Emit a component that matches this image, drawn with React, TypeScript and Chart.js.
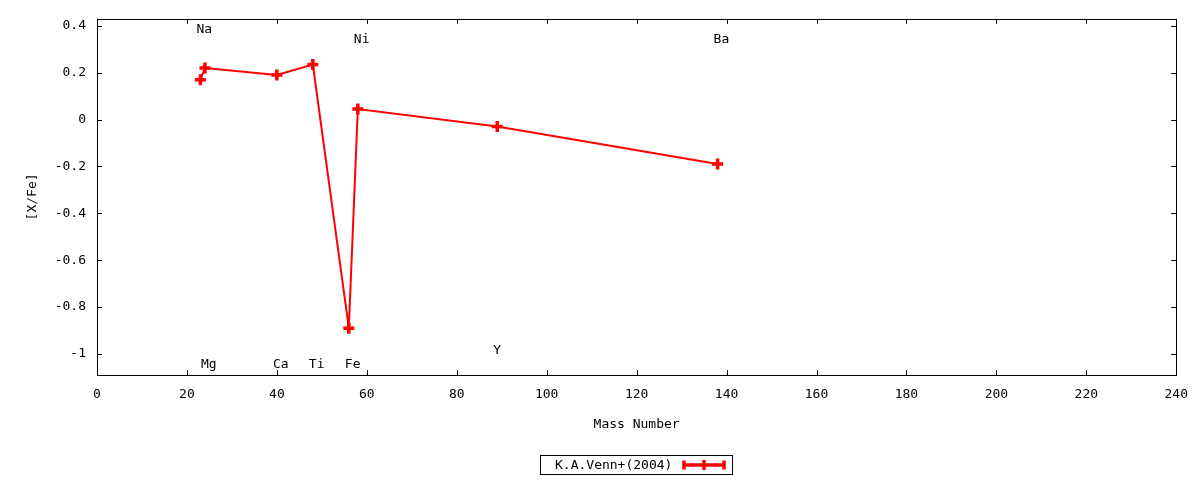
import React, { useEffect, useRef } from 'react';
import { Chart, registerables } from 'chart.js';

Chart.register(...registerables);

// ---- data ----
const elements = ['Na', 'Mg', 'Ca', 'Ti', 'Fe', 'Ni', 'Y', 'Ba'];
const massNumbers = [23, 24, 40, 48, 56, 58, 89, 138];
const abundances = [0.17, 0.22, 0.19, 0.235, -0.89, 0.045, -0.03, -0.19];
// vertical (cap-centre) position of each element name, in [X/Fe] units
const labelYs = [0.389, -1.038, -1.038, -1.038, -1.038, 0.347, -0.979, 0.347];
const xTickValues = [0, 20, 40, 60, 80, 100, 120, 140, 160, 180, 200, 220, 240];
const yTickValues = [-1, -0.8, -0.6, -0.4, -0.2, 0, 0.2, 0.4];
const xRange = [0, 240];
const yRange = [-1.09, 0.43];
const seriesLabel = 'K.A.Venn+(2004)';
const xTitle = 'Mass Number';
const yTitle = '[X/Fe]';

const FONT_FAMILY = '"DejaVu Sans Mono", monospace';
const FONT_SIZE = 13;
const RED = '#ff0000';

const fmtTick = (v: number) => {
  const r = Math.round(v * 10) / 10;
  return String(r === 0 ? 0 : r);
};

const gnuplotPlugin = {
  id: 'gnuplotDecor',
  beforeDatasetsDraw(chart: any) {
    const { ctx, chartArea } = chart;
    const xs = chart.scales.x;
    const ys = chart.scales.y;
    const { left, right, top, bottom } = chartArea;
    ctx.save();
    ctx.strokeStyle = '#000';
    ctx.lineWidth = 1;
    // frame
    ctx.strokeRect(Math.round(left) + 0.5, Math.round(top) + 0.5, Math.round(right - left), Math.round(bottom - top));
    ctx.beginPath();
    const tl = 5;
    xs.ticks.forEach((t: any) => {
      const px = Math.round(xs.getPixelForValue(t.value)) + 0.5;
      ctx.moveTo(px, bottom);
      ctx.lineTo(px, bottom - tl);
      ctx.moveTo(px, top);
      ctx.lineTo(px, top + tl);
    });
    ys.ticks.forEach((t: any) => {
      const py = Math.round(ys.getPixelForValue(t.value)) + 0.5;
      ctx.moveTo(left, py);
      ctx.lineTo(left + tl, py);
      ctx.moveTo(right, py);
      ctx.lineTo(right - tl, py);
    });
    ctx.stroke();
    ctx.restore();
  },
  afterDraw(chart: any) {
    const { ctx } = chart;
    const xs = chart.scales.x;
    const ys = chart.scales.y;
    ctx.save();
    ctx.font = `${FONT_SIZE}px ${FONT_FAMILY}`;
    ctx.fillStyle = '#000';
    ctx.textAlign = 'left';
    ctx.textBaseline = 'alphabetic';
    const capHalf = FONT_SIZE * 0.365;
    elements.forEach((name, i) => {
      const px = xs.getPixelForValue(massNumbers[i]) - 4;
      const py = ys.getPixelForValue(labelYs[i]) + capHalf;
      ctx.fillText(name, px, py);
    });

    // legend
    const ds = chart.data.datasets[0];
    const boxL = 540, boxT = 455, boxW = 192, boxH = 19;
    ctx.strokeStyle = '#000';
    ctx.lineWidth = 1;
    ctx.strokeRect(boxL + 0.5, boxT + 0.5, boxW, boxH);
    ctx.textBaseline = 'middle';
    ctx.fillText(ds.label, 555, boxT + boxH / 2 + 1);
    const cy = boxT + 10;
    const x1 = 683, x2 = 725;
    ctx.strokeStyle = RED;
    ctx.lineWidth = 3.5;
    ctx.beginPath();
    ctx.moveTo(x1, cy);
    ctx.lineTo(x2, cy);
    ctx.moveTo(x1 + 1, cy - 4.5);
    ctx.lineTo(x1 + 1, cy + 4.5);
    ctx.moveTo(x2 - 1, cy - 4.5);
    ctx.lineTo(x2 - 1, cy + 4.5);
    const mx = (x1 + x2) / 2;
    ctx.moveTo(mx, cy - 5);
    ctx.lineTo(mx, cy + 5);
    ctx.stroke();
    ctx.restore();
  },
};

export default function App() {
  const canvasRef = useRef<HTMLCanvasElement | null>(null);

  useEffect(() => {
    if (!canvasRef.current) return;
    const points = massNumbers.map((m, i) => ({ x: m, y: abundances[i] }));
    const font = { family: FONT_FAMILY, size: FONT_SIZE };
    const chart = new Chart(canvasRef.current, {
      type: 'line',
      data: {
        datasets: [
          {
            label: seriesLabel,
            data: points,
            borderColor: RED,
            backgroundColor: RED,
            borderWidth: 2,
            pointStyle: 'cross',
            pointRadius: 5.5,
            pointBorderWidth: 3.5,
            pointBorderColor: RED,
            pointBackgroundColor: RED,
            tension: 0,
            fill: false,
            clip: false as any,
          },
        ],
      },
      options: {
        animation: false,
        responsive: false,
        devicePixelRatio: 1,
        layout: { padding: { left: 0, top: 17, right: 23, bottom: 0 } },
        plugins: {
          legend: { display: false },
          tooltip: { enabled: false },
        },
        scales: {
          x: {
            type: 'linear',
            min: xRange[0],
            max: xRange[1],
            afterFit: (s: any) => {
              s.height = 105;
            },
            afterBuildTicks: (s: any) => {
              s.ticks = xTickValues.map((v) => ({ value: v }));
            },
            grid: { display: false, drawTicks: false },
            border: { display: false },
            ticks: {
              font,
              color: '#000',
              padding: 12,
              maxRotation: 0,
              autoSkip: false,
              callback: (v: any) => fmtTick(Number(v)),
            },
            title: {
              display: true,
              text: xTitle,
              font,
              color: '#000',
              padding: { top: 0, bottom: 48 },
            },
          },
          y: {
            type: 'linear',
            min: yRange[0],
            max: yRange[1],
            afterFit: (s: any) => {
              s.width = 97;
            },
            afterBuildTicks: (s: any) => {
              s.ticks = yTickValues.map((v) => ({ value: v }));
            },
            grid: { display: false, drawTicks: false },
            border: { display: false },
            ticks: {
              font,
              color: '#000',
              padding: 11,
              autoSkip: false,
              callback: (v: any) => fmtTick(Number(v)),
            },
            title: {
              display: true,
              text: yTitle,
              font,
              color: '#000',
              padding: { top: 25, bottom: 0 },
            },
          },
        },
      },
      plugins: [gnuplotPlugin],
    });
    return () => chart.destroy();
  }, []);

  return (
    <div style={{ position: 'fixed', left: 0, top: 0, width: 1200, height: 480, background: '#fff' }}>
      <canvas ref={canvasRef} width={1200} height={480} />
    </div>
  );
}
